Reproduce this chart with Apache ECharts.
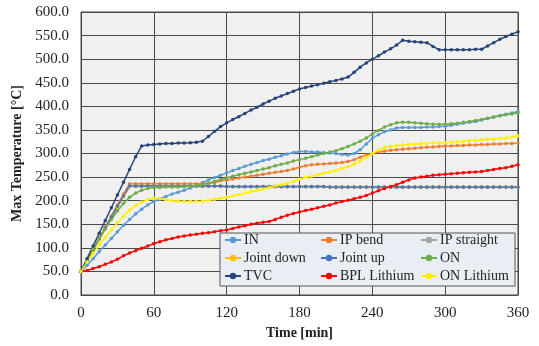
<!DOCTYPE html>
<html>
<head>
<meta charset="utf-8">
<script src="https://cdn.jsdelivr.net/npm/echarts@6/dist/echarts.min.js"></script>
<style>
  html, body { margin: 0; padding: 0; background: #fff; }
  #main { width: 539px; height: 346px; }
</style>
</head>
<body>
<div id="main"></div>
<script>
// time axis, one point every 5 min
const times = [0, 5, 10, 15, 20, 25, 30, 35, 40, 45, 50, 55, 60, 65, 70, 75, 80, 85, 90, 95,
  100, 105, 110, 115, 120, 125, 130, 135, 140, 145, 150, 155, 160, 165, 170, 175, 180, 185, 190, 195,
  200, 205, 210, 215, 220, 225, 230, 235, 240, 245, 250, 255, 260, 265, 270, 275, 280, 285, 290, 295,
  300, 305, 310, 315, 320, 325, 330, 335, 340, 345, 350, 355, 360];

const yTicks = [0, 50, 100, 150, 200, 250, 300, 350, 400, 450, 500, 550, 600];
const xTicks = [0, 60, 120, 180, 240, 300, 360];

const inVals = [50, 63, 77, 92, 106, 120, 134, 148, 160, 172,
  182, 191, 198, 204, 209, 214, 218, 222, 227, 232,
  238, 244, 249, 254, 259, 264, 268, 273, 277, 281,
  285, 288, 292, 295, 299, 302, 304, 304, 303, 303,
  302, 301, 300, 298, 297, 300, 308, 320, 332, 340,
  346, 350, 354, 355, 355, 355, 355, 356, 356, 357,
  358, 360, 362, 364, 366, 368, 371, 374, 377, 380,
  383, 386, 389];

const ipBend = [50, 74, 97, 121, 144, 168, 191, 214, 236, 236,
  236, 236, 236, 236, 236, 236, 236, 236, 236, 236,
  236, 237, 238, 242, 244, 246, 248, 250, 252, 254,
  256, 258, 260, 262, 264, 267, 271, 274, 276, 277,
  278, 279, 280, 281, 283, 287, 292, 297, 300, 303,
  305, 307, 308, 309, 310, 311, 312, 313, 314, 315,
  316, 316, 317, 317, 318, 318, 319, 319, 320, 320,
  321, 321, 322];

const ipStraight = [50, 73, 96, 118, 141, 164, 187, 209, 230, 230,
  230, 230, 230, 230, 230, 230, 230, 230, 230, 230,
  230, 230, 230, 230, 229, 229, 229, 229, 229, 229,
  229, 229, 229, 229, 229, 229, 229, 229, 229, 229,
  229, 228, 228, 228, 228, 228, 228, 228, 228, 228,
  228, 228, 228, 228, 228, 228, 228, 228, 228, 228,
  228, 228, 228, 228, 228, 228, 228, 228, 228, 228,
  228, 228, 228];

const jointDown = [50, 72, 95, 118, 141, 164, 186, 209, 230, 231,
  231, 231, 231, 231, 231, 231, 231, 231, 231, 231,
  231, 231, 231, 231, 230, 230, 230, 230, 230, 230,
  230, 230, 230, 230, 230, 230, 230, 230, 230, 230,
  230, 229, 229, 229, 229, 229, 229, 229, 229, 229,
  229, 229, 229, 229, 229, 229, 229, 229, 229, 229,
  229, 229, 229, 229, 229, 229, 229, 229, 229, 229,
  229, 229, 229];

const jointUp = [50, 73, 96, 119, 142, 165, 188, 210, 231, 231,
  231, 231, 231, 231, 231, 231, 231, 231, 231, 231,
  231, 231, 231, 231, 230, 230, 230, 230, 230, 230,
  230, 230, 230, 230, 230, 230, 230, 230, 230, 230,
  230, 229, 229, 229, 229, 229, 229, 229, 229, 229,
  229, 229, 229, 229, 229, 229, 229, 229, 229, 229,
  229, 229, 229, 229, 229, 229, 229, 229, 229, 229,
  229, 229, 229];

const onVals = [50, 74, 97, 119, 140, 160, 178, 194, 207, 216,
  222, 226, 228, 228, 229, 229, 229, 230, 231, 232,
  234, 237, 241, 245, 248, 252, 255, 258, 261, 264,
  267, 270, 274, 277, 280, 284, 287, 290, 293, 297,
  300, 303, 306, 310, 315, 320, 326, 333, 341, 349,
  356, 361, 365, 366, 366, 365, 364, 363, 362, 362,
  362, 363, 364, 366, 368, 370, 372, 375, 378, 380,
  382, 384, 386];

const tvc = [50, 77, 104, 131, 158, 185, 212, 239, 266, 293,
  316, 318, 319, 320, 321, 321, 322, 322, 323, 324,
  326, 336, 347, 357, 365, 372, 378, 385, 392, 398,
  405, 411, 417, 422, 427, 432, 437, 440, 443, 446,
  449, 452, 455, 458, 462, 472, 483, 492, 500, 507,
  515, 522, 530, 540, 538, 537, 536, 535, 527, 520,
  520, 520, 520, 520, 520, 521, 521, 528, 535, 542,
  548, 553, 558];

const bplLithium = [50, 52, 56, 60, 65, 70, 76, 83, 89, 94,
  99, 104, 109, 113, 117, 120, 123, 125, 127, 129,
  131, 132, 134, 136, 138, 141, 144, 147, 150, 152,
  154, 156, 160, 165, 169, 173, 176, 179, 182, 185,
  188, 191, 195, 198, 201, 204, 207, 211, 216, 221,
  226, 230, 234, 239, 244, 248, 250, 252, 254, 255,
  256, 257, 258, 259, 260, 261, 262, 264, 266, 268,
  270, 273, 276];

const onLithium = [50, 70, 88, 106, 122, 138, 153, 167, 180, 190,
  197, 202, 205, 204, 202, 200, 199, 198, 198, 198,
  199, 201, 203, 205, 207, 210, 213, 216, 219, 222,
  225, 228, 231, 234, 237, 241, 246, 249, 252, 255,
  258, 261, 264, 268, 272, 277, 284, 292, 300, 307,
  312, 315, 317, 318, 319, 320, 321, 321, 322, 322,
  323, 324, 325, 326, 327, 328, 329, 330, 331, 332,
  333, 335, 337];

// series in Excel order (later ones draw on top)
const seriesDefs = [
  { name: 'IN', values: inVals, color: '#5B9BD5' },
  { name: 'IP bend', values: ipBend, color: '#ED7D31' },
  { name: 'IP straight', values: ipStraight, color: '#A5A5A5' },
  { name: 'Joint down', values: jointDown, color: '#FFC000' },
  { name: 'Joint up', values: jointUp, color: '#4472C4' },
  { name: 'ON', values: onVals, color: '#70AD47' },
  { name: 'TVC', values: tvc, color: '#264478' },
  { name: 'BPL Lithium', values: bplLithium, color: '#FF0000' },
  { name: 'ON Lithium', values: onLithium, color: '#FFF000' }
];

const serif = "'Liberation Serif', 'Times New Roman', serif";

const chart = echarts.init(document.getElementById('main'), null, { renderer: 'canvas' });

// legend is 3 columns, so one legend per column
const legendCols = [
  { left: 224, names: ['IN', 'Joint down', 'TVC'] },
  { left: 320, names: ['IP bend', 'Joint up', 'BPL Lithium'] },
  { left: 420, names: ['IP straight', 'ON', 'ON Lithium'] }
];

const option = {
  animation: false,
  backgroundColor: '#fff',
  grid: {
    left: 81, right: 21, top: 12, bottom: 51,
    show: true,
    backgroundColor: '#F0F0F0',
    borderColor: '#4a4a4a',
    borderWidth: 1
  },
  graphic: [{
    type: 'rect',
    z: 3,
    shape: { x: 220, y: 233, width: 295, height: 53 },
    style: { fill: '#E9EEF5', stroke: '#555', lineWidth: 1 }
  }],
  legend: legendCols.map(col => ({
    orient: 'vertical',
    left: col.left,
    top: 232,
    z: 5,
    itemWidth: 16,
    itemHeight: 8,
    itemGap: 2,
    padding: 0,
    data: col.names,
    textStyle: { fontFamily: serif, fontSize: 14, color: '#222', lineHeight: 16, padding: [0, 0, 0, -2] }
  })),
  xAxis: {
    type: 'value',
    min: 0,
    max: 360,
    interval: 60,
    name: 'Time [min]',
    nameLocation: 'middle',
    nameGap: 30,
    nameTextStyle: { fontFamily: serif, fontSize: 14, fontWeight: 'bold', color: '#222' },
    axisLine: { show: true, lineStyle: { color: '#4a4a4a' } },
    axisTick: { show: false },
    axisLabel: { fontFamily: serif, fontSize: 15, color: '#222', margin: 11 },
    splitLine: { show: true, lineStyle: { color: '#4a4a4a', width: 1 } }
  },
  yAxis: {
    type: 'value',
    min: 0,
    max: 600,
    interval: 50,
    name: 'Max Temperature [°C]',
    nameLocation: 'middle',
    nameGap: 52,
    nameTextStyle: { fontFamily: serif, fontSize: 14, fontWeight: 'bold', color: '#222' },
    axisLine: { show: true, lineStyle: { color: '#4a4a4a' } },
    axisTick: { show: false },
    axisLabel: {
      fontFamily: serif, fontSize: 15, color: '#222', margin: 12,
      formatter: v => v.toFixed(1)
    },
    splitLine: { show: true, lineStyle: { color: '#4a4a4a', width: 1 } }
  },
  series: seriesDefs.map(s => ({
    name: s.name,
    type: 'line',
    data: times.map((t, i) => [t, s.values[i]]),
    color: s.color,
    symbol: 'circle',
    symbolSize: 3.5,
    showSymbol: true,
    lineStyle: { width: 1.5, color: s.color },
    itemStyle: { color: s.color },
    z: 2
  }))
};

chart.setOption(option);
</script>
</body>
</html>
